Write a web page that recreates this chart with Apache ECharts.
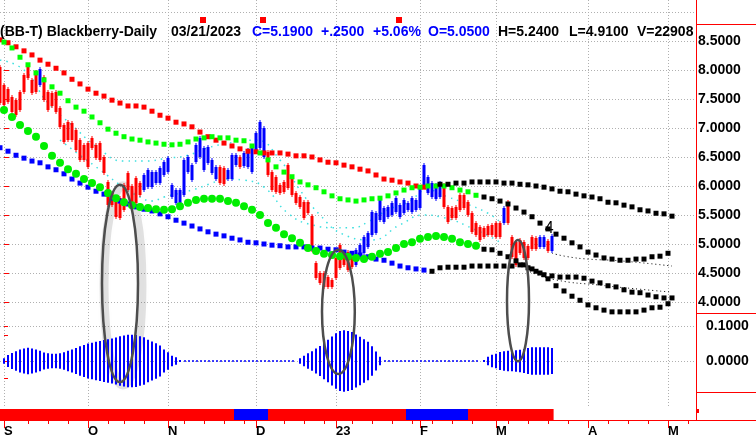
<!DOCTYPE html>
<html><head><meta charset="utf-8">
<script src="https://cdn.jsdelivr.net/npm/echarts@6/dist/echarts.min.js"></script>
<style>html,body{margin:0;padding:0;background:#fff}#c{width:756px;height:439px}</style>
</head><body><div id="c"></div>
<script>
const FONT = '"Liberation Sans", Arial, sans-serif';

// ---- time axis (trading-day index, 0 = 1 Sep 2022) ----
const monthStarts = [0, 21, 41, 63, 83, 104, 123, 146, 166];
const monthLabels = ['S', 'O', 'N', 'D', '23', 'F', 'M', 'A', 'M'];
const weekTicks = [6, 11, 16, 26, 30, 35, 45, 50, 55, 60, 70, 75, 80, 87, 92, 97, 102, 107, 112, 117, 126, 131, 136, 141, 151, 156, 161, 171];

// ---- price axis ----
const priceLabels = [4, 4.5, 5, 5.5, 6, 6.5, 7, 7.5, 8, 8.5];
const priceGrid = [4, 4.5, 5, 5.5, 6, 6.5, 7, 7.5, 8, 8.5, 9];
const histLabels = [0, 0.1];
const histTicks = [0.1, 0.075, 0, -0.05];
const histGrid = [0, 0.1];

// ---- daily bars [open, close, low, high], first day = -1 ----
const firstDay = -1;
const ohlc = [
[8.05,7.43,7.40,8.09],[7.74,7.40,7.36,7.78],[7.67,7.45,7.41,7.71],[7.53,7.28,7.24,7.57],[7.48,7.22,7.19,7.52],
[7.62,7.31,7.28,7.66],[7.91,7.62,7.59,7.95],[8.09,7.86,7.83,8.12],[7.83,7.60,7.57,7.86],[7.97,7.62,7.59,8.00],
[7.74,8.02,7.71,8.05],[7.88,7.48,7.45,7.91],[7.62,7.31,7.28,7.66],[7.60,7.38,7.35,7.64],[7.62,7.28,7.24,7.66],
[7.35,7.02,6.98,7.38],[7.05,6.76,6.72,7.09],[7.10,6.79,6.76,7.14],[7.09,6.79,6.76,7.12],[6.97,6.62,6.59,7.00],
[6.79,6.45,6.41,6.83],[6.71,6.45,6.41,6.74],[6.74,6.33,6.29,6.78],[6.83,6.66,6.62,6.86],[6.71,6.48,6.45,6.74],
[6.74,6.45,6.41,6.78],[6.50,6.22,6.19,6.53],[6.07,5.67,5.64,6.10],[5.88,5.67,5.64,5.91],[5.81,5.47,5.43,5.84],
[5.79,5.45,5.41,5.83],[6.02,5.59,5.55,6.05],[6.22,5.93,5.90,6.26],[6.00,5.72,5.69,6.03],[6.14,5.71,5.67,6.17],
[6.05,5.84,5.81,6.09],[5.93,6.19,5.90,6.22],[5.98,6.28,5.95,6.31],[5.98,6.24,5.95,6.28],[6.05,6.24,6.02,6.28],
[6.05,6.31,6.02,6.35],[6.19,6.41,6.16,6.45],[6.24,6.48,6.21,6.52],[5.81,6.02,5.78,6.05],[5.71,5.93,5.67,5.97],
[5.64,5.93,5.60,5.97],[5.84,6.45,5.81,6.48],[6.24,6.50,6.21,6.53],[6.10,6.36,6.07,6.40],[6.41,6.71,6.38,6.74],
[6.50,6.83,6.47,6.86],[6.28,6.66,6.24,6.69],[6.40,6.67,6.36,6.71],[6.22,6.45,6.19,6.48],[6.12,6.33,6.09,6.36],
[6.33,6.05,6.02,6.36],[6.31,6.03,6.00,6.35],[6.12,6.28,6.09,6.31],[6.12,6.53,6.09,6.57],[6.36,6.53,6.33,6.57],
[6.50,6.33,6.29,6.53],[6.35,6.57,6.31,6.60],[6.33,6.62,6.29,6.66],[6.24,6.66,6.21,6.69],[6.59,6.91,6.55,6.95],
[6.66,7.10,6.62,7.14],[6.50,7.00,6.47,7.03],[6.59,6.19,6.16,6.62],[6.24,5.93,5.90,6.28],[6.16,5.90,5.86,6.19],
[6.02,5.88,5.84,6.05],[6.07,5.90,5.86,6.10],[6.36,5.97,5.93,6.40],[6.14,5.84,5.81,6.17],[5.88,5.71,5.67,5.91],
[5.81,5.64,5.60,5.84],[5.72,5.45,5.41,5.76],[5.72,5.53,5.50,5.76],[5.48,4.90,4.86,5.52],[4.67,4.41,4.38,4.71],
[4.50,4.33,4.29,4.53],[4.50,4.26,4.22,4.53],[4.43,4.26,4.22,4.47],[4.38,4.26,4.22,4.41],[4.76,4.41,4.38,4.79],
[4.98,4.59,4.55,5.02],[4.86,4.64,4.60,4.90],[4.86,4.55,4.52,4.90],[4.78,4.60,4.57,4.81],[4.64,4.90,4.60,4.93],
[4.78,4.98,4.74,5.02],[4.84,5.12,4.81,5.16],[4.95,5.19,4.91,5.22],[5.16,5.55,5.12,5.59],[5.19,5.53,5.16,5.57],
[5.41,5.79,5.38,5.83],[5.38,5.62,5.34,5.65],[5.47,5.64,5.43,5.67],[5.50,5.71,5.47,5.74],[5.55,5.79,5.52,5.83],
[5.47,5.67,5.43,5.71],[5.53,5.76,5.50,5.79],[5.59,5.71,5.55,5.74],[5.55,5.79,5.52,5.83],[5.59,5.76,5.55,5.79],
[5.62,5.98,5.59,6.02],[6.02,6.36,5.98,6.40],[5.88,6.16,5.84,6.19],[5.81,6.05,5.78,6.09],[5.78,6.02,5.74,6.05],
[5.81,6.05,5.78,6.09],[6.02,5.64,5.60,6.05],[5.64,5.38,5.34,5.67],[5.62,5.45,5.41,5.65],[5.64,5.45,5.41,5.67],
[5.84,5.59,5.55,5.88],[5.84,5.62,5.59,5.88],[5.72,5.50,5.47,5.76],[5.53,5.21,5.17,5.57],[5.36,5.16,5.12,5.40],
[5.29,5.07,5.03,5.33],[5.28,5.12,5.09,5.31],[5.31,5.16,5.12,5.34],[5.33,5.16,5.12,5.36],[5.36,5.12,5.09,5.40],
[5.36,5.12,5.09,5.40],[5.36,5.62,5.33,5.65],[5.72,5.36,5.33,5.76],[5.12,4.78,4.74,5.16],[5.03,4.64,4.60,5.07],
[5.07,4.84,4.81,5.10],[5.03,4.76,4.72,5.07],[4.97,4.76,4.72,5.00],[5.12,4.91,4.88,5.16],[5.10,4.92,4.88,5.14],
[4.95,5.12,4.91,5.16],[4.95,5.12,4.91,5.15],[5.05,4.88,4.84,5.09],[4.88,5.14,4.84,5.17]
];

// ---- dotted band lines (one point every 2 days from the start day) ----
const redBandStart = -1;
const redBand = [8.52,8.47,8.40,8.33,8.26,8.17,8.10,8.03,7.95,7.84,7.76,7.67,7.60,7.55,7.48,7.43,7.38,7.38,7.36,7.29,7.22,7.17,7.10,7.07,7.02,6.93,6.85,6.79,6.74,6.69,6.64,6.60,6.59,6.57,6.57,6.57,6.55,6.52,6.52,6.50,6.45,6.41,6.40,6.36,6.33,6.29,6.26,6.19,6.12,6.10,6.07,6.05,6.00,5.98];
const blackTopStart = 109;
const blackTop = [6.03,6.03,6.05,6.05,6.07,6.07,6.07,6.07,6.05,6.05,6.03,6.02,6.00,5.98,5.95,5.91,5.90,5.86,5.83,5.81,5.78,5.72,5.71,5.67,5.64,5.59,5.57,5.53,5.52,5.48];
const lightGreenStart = 0;
const lightGreen = [8.48,8.38,8.22,8.09,7.95,7.83,7.71,7.60,7.47,7.36,7.29,7.19,7.09,6.98,6.91,6.85,6.81,6.79,6.76,6.74,6.72,6.71,6.72,6.76,6.81,6.83,6.85,6.83,6.83,6.79,6.78,6.69,6.57,6.45,6.33,6.24,6.16,6.07,6.02,5.97,5.90,5.83,5.78,5.76,5.74,5.76,5.78,5.79,5.83,5.88,5.93,5.97,5.98,6.00,6.00,6.00,5.97,5.93,5.90,5.84];
const blackMidStart = 120;
const blackMid = [5.81,5.78,5.74,5.69,5.62,5.55,5.47,5.36,5.26,5.17,5.10,5.02,4.95,4.86,4.81,4.76,4.74,4.72,4.72,4.74,4.74,4.78,4.79,4.84];
const bigGreenStart = 0;
const bigGreen = [7.31,7.19,7.05,6.95,6.85,6.69,6.52,6.40,6.29,6.21,6.12,6.05,5.98,5.88,5.79,5.72,5.67,5.64,5.62,5.60,5.59,5.60,5.65,5.71,5.76,5.78,5.78,5.78,5.74,5.71,5.65,5.59,5.50,5.36,5.28,5.17,5.10,5.02,4.93,4.88,4.83,4.81,4.79,4.78,4.76,4.74,4.78,4.83,4.86,4.93,5.00,5.03,5.09,5.12,5.14,5.12,5.09,5.03,5.00,4.97];
const blackLowStart = 120;
const blackLow = [4.91,4.90,4.84,4.78,4.71,4.64,4.57,4.50,4.40,4.28,4.19,4.10,4.03,3.95,3.90,3.86,3.83,3.83,3.83,3.83,3.86,3.90,3.91,3.97];
const blueBandStart = -1;
const blueBand = [6.66,6.60,6.53,6.48,6.43,6.40,6.33,6.28,6.21,6.12,6.05,5.98,5.91,5.86,5.79,5.74,5.69,5.64,5.60,5.57,5.52,5.47,5.41,5.36,5.31,5.26,5.21,5.17,5.14,5.10,5.07,5.03,5.02,5.00,4.98,4.97,4.95,4.95,4.95,4.93,4.93,4.91,4.90,4.86,4.84,4.81,4.78,4.74,4.72,4.67,4.62,4.59,4.57,4.55];
const blackBlueStart = 107;
const blackBlue = [4.53,4.59,4.60,4.60,4.60,4.62,4.62,4.62,4.62,4.62,4.62,4.64,4.59,4.53,4.47,4.45,4.43,4.43,4.43,4.41,4.36,4.33,4.28,4.26,4.21,4.17,4.16,4.12,4.09,4.07,4.07];

// thin dotted curves [day, price]
const cyanA = [[-1,8.17],[5,8.00],[11,7.43],[17,7.05],[23,6.69],[30,6.43],[35,6.43],[41,6.48],[46,6.53],[51,6.66],[58,6.76],[63,6.79],[69,6.45],[74,5.93],[79,5.50],[85,5.16],[92,5.07],[99,5.33],[105,5.50],[109,5.47],[119,5.21],[124,5.03]];
const cyanB = [[14,6.79],[19,6.53],[24,6.28],[30,5.97],[34,5.81],[37,5.74],[40,5.81],[47,5.93],[52,6.05],[55,6.12],[60,6.10],[65,5.98],[71,5.53],[77,5.33],[83,5.28],[87,5.28],[91,5.38],[96,5.59],[101,5.72],[106,5.93],[111,5.81],[115,5.71],[121,5.53],[124,5.38]];
const thinA = [[137,4.84],[141,4.78],[146,4.74],[154,4.71],[167,4.62]];
const thinB = [[131.5,4.52],[138,4.38],[149,4.29],[159,4.22],[167,4.17]];

// ---- cycle histogram (half amplitude) ----
const histAStart = 0;
const histA = [0.008,0.017,0.023,0.028,0.033,0.036,0.038,0.036,0.033,0.029,0.024,0.022,0.021,0.021,0.022,0.025,0.029,0.033,0.037,0.042,0.046,0.050,0.052,0.055,0.057,0.060,0.062,0.064,0.067,0.071,0.073,0.075,0.075,0.074,0.071,0.068,0.061,0.056,0.051,0.044,0.033,0.025,0.015,0.011,0.003];
const histBStart = 74;
const histB = [0.008,0.015,0.022,0.028,0.036,0.043,0.052,0.061,0.070,0.079,0.086,0.088,0.086,0.083,0.076,0.069,0.062,0.055,0.042,0.027,0.012];
const histCStart = 120;
const histC = [0.003,0.012,0.018,0.021,0.026,0.028,0.029,0.029,0.031,0.032,0.034,0.037,0.039,0.039,0.039,0.039,0.039,0.037];
const zeroRuns = [[45, 73], [95, 119]];

// ---- bottom state strip [fromDay, toDay, colour] ----
const stripRuns = [[-1.5, 57.5, '#ff0000'], [57.5, 66, '#0000ff'], [66, 100.5, '#ff0000'], [100.5, 116, '#0000ff'], [116, 137.4, '#ff0000']];

// ---- annotations (data coordinates) ----
const ellipses = [
  {day: 29, half: 4.5, top: 6.02, bottom: 2.62, glow: true},
  {day: 83.6, half: 4.1, top: 4.90, bottom: 2.76, glow: false},
  {day: 128.5, half: 2.75, top: 5.07, bottom: 2.98, glow: false}
];
const noteLabel = {day: 136.3, price: 5.26, text: '4'};

// ---- header ----
const header = [
  {t: '(BB-T) Blackberry-Daily', x: 0, c: '#000'},
  {t: '03/21/2023', x: 171, c: '#000'},
  {t: 'C=5.1900', x: 252, c: '#0000ff'},
  {t: '+.2500', x: 321, c: '#0000ff'},
  {t: '+5.06%', x: 373, c: '#0000ff'},
  {t: 'O=5.0500', x: 428, c: '#0000ff'},
  {t: 'H=5.2400', x: 498, c: '#000'},
  {t: 'L=4.9100', x: 569, c: '#000'},
  {t: 'V=22908', x: 637, c: '#000'}
];

const chart = echarts.init(document.getElementById('c'), null, {renderer: 'canvas'});

const gridDot = {color: '#b0b0b0', type: [1, 2], width: 1};
function band(start, vals, color, symbol, size) {
  return {type: 'line', xAxisIndex: 0, yAxisIndex: 0, data: vals.map((v, k) => [start + 2 * k, v]),
    symbol: symbol, symbolSize: size, showSymbol: true, showAllSymbol: true,
    itemStyle: {color: color}, lineStyle: {opacity: 0, width: 0}, silent: true, z: 6};
}
function thin(pts, color, dash, w) {
  return {type: 'line', xAxisIndex: 0, yAxisIndex: 0, data: pts, symbol: 'none', smooth: true,
    lineStyle: {color: color, type: dash, width: w}, silent: true, z: 4};
}
const histPairs = [];
[[histAStart, histA], [histBStart, histB], [histCStart, histC]].forEach(([s, arr]) => arr.forEach((a, k) => histPairs.push([s + k, a])));
const zeroData = [];
zeroRuns.forEach(([a, b]) => { for (let d = a; d <= b; d++) zeroData.push([d, 0]); zeroData.push([b + 0.5, '-']); });

// crisp 3px bars with a 1px wick, positioned through the axis scales
function renderBar(params, api) {
  const d = api.value(0), o = api.value(1), c = api.value(2), lo = api.value(3), hi = api.value(4);
  const po = api.coord([d, o]), pc = api.coord([d, c]), pl = api.coord([d, lo]), ph = api.coord([d, hi]);
  const x = Math.round(po[0]);
  const top = Math.round(Math.min(po[1], pc[1])), bot = Math.round(Math.max(po[1], pc[1]));
  const color = c >= o ? '#0000ff' : '#ff0000';
  return {type: 'group', children: [
    {type: 'rect', shape: {x: x - 0.5, y: Math.round(ph[1]), width: 1, height: Math.round(pl[1]) - Math.round(ph[1])}, style: {fill: color}},
    {type: 'rect', shape: {x: x - 1.5 + 0.5 - 0.5, y: top, width: 3, height: Math.max(1, bot - top)}, style: {fill: color}}
  ]};
}

const option = {
  animation: false,
  backgroundColor: '#ffffff',
  grid: [
    {left: 0, top: 12, width: 696, height: 304.5, outerBoundsMode: 'none'},
    {left: 0, top: 308.5, width: 696, height: 87.5, outerBoundsMode: 'none'},
    {left: 0, top: 409, width: 696, height: 11, outerBoundsMode: 'none'},
    {left: 0, top: 0, width: 696, height: 408, outerBoundsMode: 'none'},
    {left: 0, top: 409, width: 696, height: 11, outerBoundsMode: 'none'}
  ],
  xAxis: [
    {type: 'value', gridIndex: 0, min: -1, max: 173, show: false},
    {type: 'value', gridIndex: 1, min: -1, max: 173, show: false},
    {type: 'value', gridIndex: 2, min: -1, max: 173, position: 'bottom',
      axisLine: {show: false}, splitLine: {show: false},
      axisTick: {show: true, customValues: monthStarts, length: 8, lineStyle: {color: '#ff0000', width: 1}},
      axisLabel: {show: true, customValues: monthStarts, formatter: v => monthLabels[monthStarts.indexOf(v)],
        align: 'left', margin: 5, color: '#000', fontWeight: 'bold', fontSize: 13, fontFamily: FONT}},
    {type: 'value', gridIndex: 3, min: -1, max: 173,
      axisLine: {show: false}, axisTick: {show: false, customValues: monthStarts},
      axisLabel: {show: false, customValues: monthStarts}, splitLine: {show: true, lineStyle: gridDot}},
    {type: 'value', gridIndex: 4, min: -1, max: 173, position: 'bottom',
      axisLine: {show: false}, splitLine: {show: false}, axisLabel: {show: false},
      axisTick: {show: true, customValues: weekTicks, length: 4, lineStyle: {color: '#ff0000', width: 1}}}
  ],
  yAxis: [
    {type: 'value', gridIndex: 0, min: 3.75, max: 9, position: 'right',
      axisLine: {show: false}, splitLine: {show: false},
      axisTick: {show: true, customValues: priceLabels, length: 5, lineStyle: {color: '#ff0000', width: 1}},
      axisLabel: {customValues: priceLabels, formatter: v => v.toFixed(4), margin: 2, color: '#000',
        fontWeight: 'bold', fontSize: 14, fontFamily: FONT}},
    {type: 'value', gridIndex: 0, min: 3.75, max: 9, position: 'left',
      axisLine: {show: false}, axisTick: {show: false, customValues: priceGrid},
      axisLabel: {show: false, customValues: priceGrid}, splitLine: {show: true, lineStyle: gridDot}},
    {type: 'value', gridIndex: 1, min: -0.1, max: 0.15, position: 'right',
      axisLine: {show: false}, splitLine: {show: false},
      axisTick: {show: true, customValues: histTicks, length: 4, lineStyle: {color: '#ff0000', width: 1}},
      axisLabel: {customValues: histLabels, formatter: v => v.toFixed(4), margin: 10, color: '#000',
        fontWeight: 'bold', fontSize: 14, fontFamily: FONT}},
    {type: 'value', gridIndex: 1, min: -0.1, max: 0.15, position: 'left',
      axisLine: {show: false}, axisTick: {show: false, customValues: histGrid},
      axisLabel: {show: false, customValues: histGrid}, splitLine: {show: true, lineStyle: gridDot}},
    {type: 'value', gridIndex: 2, min: 0, max: 1, show: false},
    {type: 'value', gridIndex: 3, min: 0, max: 1, show: false},
    {type: 'value', gridIndex: 4, min: 0, max: 1, show: false}
  ],
  series: [
    thin(cyanA, '#3ee0e0', [1.5, 5], 1.5),
    thin(cyanB, '#3ee0e0', [1.5, 5], 1.5),
    {type: 'custom', xAxisIndex: 0, yAxisIndex: 0, renderItem: renderBar, clip: true,
      data: ohlc.map((d, k) => [firstDay + k, d[0], d[1], d[2], d[3]]),
      encode: {x: 0, y: [1, 2, 3, 4]}, silent: true, z: 5},
    band(redBandStart, redBand, '#ff0000', 'rect', 5),
    band(blueBandStart, blueBand, '#0000ff', 'rect', 5),
    band(lightGreenStart, lightGreen, '#00ff00', 'rect', 5),
    band(bigGreenStart, bigGreen, '#00ee00', 'circle', 8),
    band(blackTopStart, blackTop, '#000000', 'rect', 5),
    band(blackMidStart, blackMid, '#000000', 'rect', 5),
    band(blackLowStart, blackLow, '#000000', 'rect', 5),
    band(blackBlueStart, blackBlue, '#000000', 'rect', 5),
    thin(thinA, '#000000', [1, 3], 1),
    thin(thinB, '#000000', [1, 3], 1),
    {type: 'bar', xAxisIndex: 1, yAxisIndex: 2, stack: 'h', barWidth: 2, silent: true,
      data: histPairs.map(([d, a]) => [d, a]), itemStyle: {color: '#0000ff'}},
    {type: 'bar', xAxisIndex: 1, yAxisIndex: 2, stack: 'h', barWidth: 2, silent: true,
      data: histPairs.map(([d, a]) => [d, -a]), itemStyle: {color: '#0000ff'}},
    {type: 'line', xAxisIndex: 1, yAxisIndex: 2, data: zeroData, symbol: 'none', silent: true,
      lineStyle: {color: '#0000ff', type: [2, 2], width: 1.5}},
    {type: 'line', xAxisIndex: 2, yAxisIndex: 4, data: [[-1, 0.5]], symbol: 'none', lineStyle: {opacity: 0}, silent: true,
      markArea: {silent: true, data: stripRuns.map(([a, b, c]) => [{xAxis: a, itemStyle: {color: c, opacity: 1}}, {xAxis: b}])}}
  ]
};
chart.setOption(option);

// ---- graphics: frame, header, annotations ----
const g = [];
const red = '#ff0000';
const hline = (x1, x2, y) => g.push({type: 'line', shape: {x1, y1: y, x2, y2: y}, style: {stroke: red, lineWidth: 1}, z: 30, silent: true});
g.push({type: 'line', shape: {x1: 696.5, y1: 0, x2: 696.5, y2: 420}, style: {stroke: red, lineWidth: 1}, z: 30, silent: true});
hline(696, 756, 24.5); hline(696, 756, 313.5); hline(696, 756, 392.5); hline(0, 756, 420.5);
g.push({type: 'rect', shape: {x: 697, y: 409, width: 2, height: 4}, style: {fill: red}, z: 30, silent: true});
[200, 260, 396].forEach(x => g.push({type: 'rect', shape: {x, y: 17, width: 6, height: 6}, style: {fill: red}, z: 30, silent: true}));
header.forEach(h => g.push({type: 'text', x: h.x, y: 32, z: 30, silent: true,
  style: {text: h.t, fill: h.c, font: 'bold 14px ' + FONT, align: 'left', verticalAlign: 'middle', textAlign: 'left', textVerticalAlign: 'middle'}}));

const toPx = (d, p) => chart.convertToPixel({gridIndex: 0}, [d, p]);
ellipses.forEach(e => {
  const t = toPx(e.day, e.top), b = toPx(e.day, e.bottom), l = toPx(e.day - e.half, e.top);
  const cx = t[0], cy = (t[1] + b[1]) / 2, rx = t[0] - l[0], ry = (b[1] - t[1]) / 2;
  if (e.glow) {
    g.push({type: 'ellipse', shape: {cx: cx + 3, cy: cy + 2, rx: rx + 1, ry: ry + 1}, silent: true, z: 1,
      style: {fill: 'none', stroke: 'rgba(0,0,0,0.11)', lineWidth: 9, shadowBlur: 6, shadowColor: 'rgba(0,0,0,0.15)'}});
  }
  g.push({type: 'ellipse', shape: {cx, cy, rx, ry}, silent: true, z: 40,
    style: {fill: 'none', stroke: '#4d4d4d', lineWidth: 2.5}});
});
const np = toPx(noteLabel.day, noteLabel.price);
g.push({type: 'text', x: np[0], y: np[1], z: 40, silent: true,
  style: {text: noteLabel.text, fill: '#000', font: '16px ' + FONT, align: 'center', verticalAlign: 'middle', textAlign: 'center', textVerticalAlign: 'middle'}});

chart.setOption({graphic: {elements: g}});
</script>
</body></html>
